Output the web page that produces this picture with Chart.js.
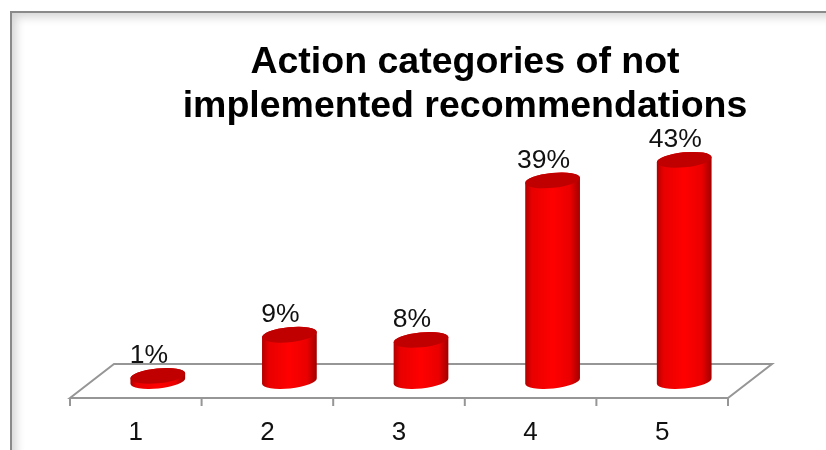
<!DOCTYPE html>
<html>
<head>
<meta charset="utf-8">
<style>
html, body { margin: 0; background: #fff; overflow: hidden; }
#marco { position: absolute; left: 10px; top: 11px; width: 900px; height: 600px; border: 2px solid #8a8a8a; box-shadow: inset 4px 4px 10px #d4d4d4; }
#grafico { position: absolute; left: 0; top: 0; }
</style>
</head>
<body>
<div id="marco"></div>
<canvas id="grafico" width="826" height="450"></canvas>
<script src="https://cdn.jsdelivr.net/npm/chart.js@4"></script>
<script>
const categorias = ['1', '2', '3', '4', '5'];
const valores = [1, 9, 8, 39, 43];
const titulo = ['Action categories of not', 'implemented recommendations'];

const FUENTE = '"Liberation Sans", Arial, sans-serif';
const DESP_X = 22;   // corrimiento del piso 3D
const DESP_Y = 17;
const ANCHO_BARRA = 55;
const INCLINACION = -0.1;
const RADIO_Y = 7.5;

// gradiente horizontal del cilindro
function colorCilindro(context) {
    const chart = context.chart;
    if (!chart.chartArea || context.dataIndex === undefined) return '#ff0000';
    const cx = chart.scales.x.getPixelForValue(context.dataIndex);
    const g = chart.ctx.createLinearGradient(cx - ANCHO_BARRA / 2, 0, cx + ANCHO_BARRA / 2, 0);
    g.addColorStop(0, '#b00000');
    g.addColorStop(0.12, '#e80000');
    g.addColorStop(0.5, '#ff0000');
    g.addColorStop(0.82, '#ea0000');
    g.addColorStop(1, '#a00000');
    return g;
}

const piso3d = {
    id: 'piso3d',
    beforeDatasetsDraw(chart) {
        const { ctx, chartArea: a } = chart;
        const frente = a.bottom + DESP_Y, fondo = a.bottom - DESP_Y;
        ctx.save();
        ctx.strokeStyle = '#969696';
        ctx.lineWidth = 2;
        ctx.beginPath();
        ctx.moveTo(a.left - DESP_X, frente);
        ctx.lineTo(a.left + DESP_X, fondo);
        ctx.lineTo(a.right + DESP_X, fondo);
        ctx.lineTo(a.right - DESP_X, frente);
        ctx.closePath();
        const paso = (a.right - a.left) / categorias.length;
        for (let i = 0; i <= categorias.length; i++) {
            const tx = a.left + paso * i - DESP_X;
            ctx.moveTo(tx, frente);
            ctx.lineTo(tx, frente + 8);
        }
        ctx.stroke();
        ctx.restore();
    }
};

const cilindros = {
    id: 'cilindros',
    // reemplaza el dibujo normal de la barra por el cilindro
    beforeDatasetDraw(chart, args) {
        const { ctx } = chart;
        args.meta.data.forEach((bar, i) => {
            const rx = bar.width / 2;
            ctx.save();
            ctx.beginPath();
            ctx.ellipse(bar.x, bar.base, rx, RADIO_Y, INCLINACION, 0, Math.PI);
            ctx.ellipse(bar.x, bar.y, rx, RADIO_Y, INCLINACION, Math.PI, Math.PI * 2);
            ctx.closePath();
            ctx.fillStyle = bar.options.backgroundColor;
            ctx.fill();
            ctx.beginPath();
            ctx.ellipse(bar.x, bar.y, rx, RADIO_Y, INCLINACION, 0, Math.PI * 2);
            ctx.fillStyle = '#c00000';
            ctx.fill();
            ctx.restore();

            ctx.save();
            ctx.font = '26.5px ' + FUENTE;
            ctx.fillStyle = '#111';
            ctx.textAlign = 'center';
            ctx.textBaseline = 'middle';
            ctx.fillText(valores[i] + '%', bar.x - 9, bar.y - 20);
            ctx.restore();
        });
        return false;
    }
};

// el título va centrado sobre el recuadro, no sobre el canvas
const moverTitulo = {
    id: 'moverTitulo',
    afterLayout(chart) {
        chart.titleBlock.left += 44;
        chart.titleBlock.right += 44;
    }
};

new Chart(document.getElementById('grafico'), {
    type: 'bar',
    data: {
        labels: categorias,
        datasets: [{ data: valores, backgroundColor: colorCilindro, barThickness: ANCHO_BARRA }]
    },
    plugins: [piso3d, cilindros, moverTitulo],
    options: {
        responsive: false,
        animation: false,
        layout: { padding: { left: 92, right: 76, top: 41, bottom: 0 } },
        plugins: {
            legend: { display: false },
            tooltip: { enabled: false },
            title: {
                display: true,
                text: titulo,
                color: '#000',
                font: { family: FUENTE, size: 37.5, weight: 'bold', lineHeight: 1.173 },
                padding: 0
            }
        },
        scales: {
            x: {
                grid: { display: false },
                border: { display: false },
                afterFit(scale) { scale.height = 69; },
                ticks: {
                    color: '#111',
                    font: { family: FUENTE, size: 26 },
                    padding: 28,
                    labelOffset: -DESP_X,
                    maxRotation: 0
                }
            },
            y: { display: false, min: 0, max: 49 }
        }
    }
});
</script>
</body>
</html>
